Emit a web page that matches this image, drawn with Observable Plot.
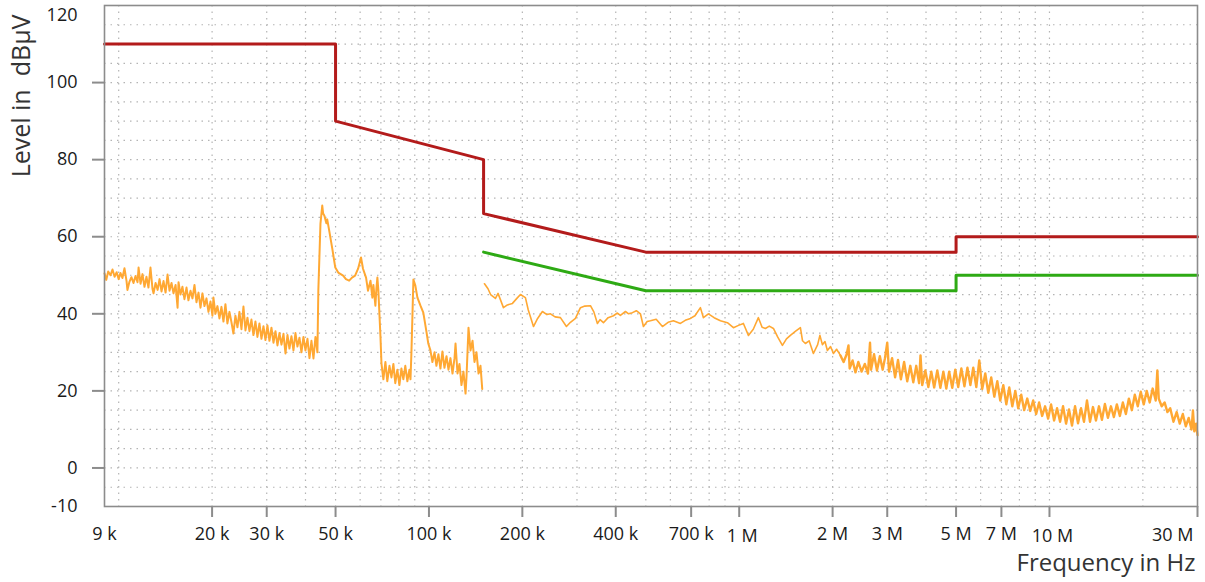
<!DOCTYPE html>
<html><head><meta charset="utf-8">
<script src="https://cdn.jsdelivr.net/npm/d3@7"></script>
<script src="https://cdn.jsdelivr.net/npm/@observablehq/plot@0.6"></script>
<style>html,body{margin:0;padding:0;background:#fff;} svg{display:block}</style>
</head><body><div id="chart"></div>
<script>
// ---- Data ----
// Measurement trace, band 9 kHz - 150 kHz: [frequency kHz, level dBµV]
const bandA_kHz = [[9.00,50.5],[9.12,48.8],[9.25,51.0],[9.41,50.0],[9.55,51.5],[9.70,49.6],[9.85,50.8],[10.0,49.0],[10.13,50.6],[10.28,49.3],[10.44,51.8],[10.60,48.5],[10.67,46.2],[10.83,48.3],[10.99,49.5],[11.16,48.0],[11.33,49.8],[11.50,48.2],[11.59,52.0],[11.76,47.8],[11.93,50.3],[12.11,47.0],[12.29,49.6],[12.47,46.8],[12.66,52.0],[12.85,46.5],[12.95,45.3],[13.15,48.0],[13.35,46.2],[13.54,49.0],[13.74,45.8],[13.95,48.5],[14.16,45.5],[14.37,50.2],[14.58,46.0],[14.80,48.0],[15.02,45.3],[15.25,47.5],[15.48,41.6],[15.59,48.2],[15.82,45.0],[16.05,47.0],[16.29,43.8],[16.54,46.8],[16.78,43.5],[17.04,46.0],[17.29,44.0],[17.55,47.5],[17.81,43.0],[18.08,45.5],[18.35,41.6],[18.62,45.3],[18.90,42.0],[19.18,44.0],[19.47,40.5],[19.76,43.2],[20.05,39.5],[20.20,44.2],[20.50,40.0],[20.81,42.0],[21.12,38.8],[21.44,41.8],[21.76,38.0],[22.08,42.5],[22.41,37.5],[22.75,40.5],[23.09,37.8],[23.43,34.9],[23.78,39.5],[24.14,36.5],[24.50,40.5],[24.87,36.0],[25.24,41.9],[25.62,35.7],[26.00,39.0],[26.39,35.5],[26.78,38.5],[27.18,34.5],[27.59,38.0],[28.00,34.0],[28.42,37.5],[28.85,33.5],[29.28,36.8],[29.72,33.2],[30.16,37.0],[30.61,33.0],[31.07,36.4],[31.54,32.5],[32.01,35.5],[32.49,31.8],[32.97,35.0],[33.47,32.0],[33.97,34.8],[34.48,29.7],[34.99,34.5],[35.51,31.0],[36.04,34.2],[36.58,30.5],[37.13,35.0],[37.68,31.5],[38.25,33.8],[38.82,30.0],[39.40,34.0],[39.99,30.5],[40.59,33.5],[41.20,28.5],[41.81,33.0],[42.44,28.4],[43.07,34.0],[43.40,32.0],[43.7,30.0],[44.0,46.0],[44.7,63.4],[45.3,68.1],[45.6,66.0],[46.0,65.5],[46.7,63.5],[47.0,64.5],[47.7,61.6],[48.8,56.9],[49.9,52.0],[51.0,50.7],[52.9,49.9],[54.0,49.0],[55.3,48.6],[56.5,49.4],[57.8,49.9],[59.1,51.7],[60.4,54.6],[61.3,51.7],[62.7,49.4],[63.6,46.0],[64.8,48.6],[65.7,44.2],[66.2,47.5],[67.2,42.1],[67.7,46.5],[68.2,49.4],[68.7,46.0],[69.8,33.8],[70.3,27.1],[71.3,23.0],[72.4,27.5],[73.4,22.5],[74.6,26.5],[75.7,23.5],[76.8,27.0],[77.9,22.0],[79.1,25.5],[80.3,21.5],[81.5,25.8],[82.7,23.0],[83.9,26.5],[85.2,22.5],[86.5,25.5],[87.2,23.0],[87.8,30.0],[88.5,40.0],[89.1,48.9],[90.4,47.3],[91.8,44.2],[93.9,42.1],[95.9,40.3],[98.0,35.7],[99.5,32.3],[101.1,30.5],[102.6,27.5],[104.2,30.0],[105.7,26.5],[107.3,29.5],[108.9,25.8],[110.5,30.2],[112.2,26.0],[113.9,29.0],[115.6,25.5],[117.3,28.5],[119.1,24.5],[120.9,28.5],[121.8,32.3],[123.6,24.5],[125.4,27.0],[127.3,21.5],[129.2,25.0],[131.2,19.3],[132.2,24.0],[134.1,36.4],[136.1,30.5],[138.2,33.0],[140.2,27.5],[142.3,30.0],[144.5,24.5],[146.6,26.5],[148.5,20.5]];

// Measurement trace, band 150 kHz - 2.12 MHz: [frequency kHz, level dBµV]
const bandB_kHz = [[151,47.8],[155,46.5],[158,45.0],[163.8,44.0],[167,45.3],[173.8,41.6],[179,42.3],[185.8,42.7],[192,44.0],[197.2,45.0],[204.6,44.2],[209,41.0],[217.2,36.7],[224,38.8],[232.1,40.6],[240,39.8],[246.4,40.0],[255,39.2],[265.3,39.0],[277.4,36.7],[285.8,37.8],[296.6,38.8],[307.8,41.6],[318,42.0],[331.5,42.1],[340,40.5],[349.1,37.5],[356,38.5],[365.1,37.7],[378,39.0],[393.2,39.5],[405,40.2],[414,39.6],[429.9,40.6],[440,40.0],[452.7,40.3],[466,40.8],[480.4,40.0],[491.2,36.7],[505,38.0],[517.3,38.2],[540,38.6],[565.6,36.7],[590,37.8],[613.7,38.2],[646.4,37.5],[670,38.3],[696.2,38.8],[720,39.5],[749.8,41.6],[766.7,39.0],[795.6,40.0],[830,39.0],[869.8,38.2],[916.1,37.7],[958,36.4],[995,37.0],[1031.6,37.5],[1070.6,34.4],[1110,36.0],[1153,39.0],[1185,36.5],[1214.8,36.2],[1250,36.8],[1289,36.2],[1330,34.0],[1378,31.8],[1420,33.5],[1462,34.4],[1520,35.5],[1574.8,36.4],[1600,33.0],[1634,32.3],[1680,33.0],[1734.5,29.7],[1790,32.0],[1820,34.4],[1854,32.0],[1890,32.8],[1924,30.5],[1970,31.5],[2012,29.7],[2060,30.8],[2120,29.2]];

// Measurement trace, band 2.12 MHz - 30 MHz: [frequency MHz, level dBµV]
const bandC_MHz = [[2.12,29.2],[2.17,27.5],[2.22,29.5],[2.25,31.8],[2.27,25.8],[2.32,27.9],[2.37,24.8],[2.42,27.5],[2.48,25.0],[2.54,27.0],[2.60,24.5],[2.64,32.5],[2.66,25.5],[2.72,29.5],[2.78,25.3],[2.84,29.0],[2.90,25.5],[2.95,28.5],[3.00,32.5],[3.04,25.0],[3.11,28.5],[3.18,23.5],[3.25,28.0],[3.32,23.0],[3.40,27.5],[3.48,22.5],[3.56,26.5],[3.64,22.2],[3.72,26.5],[3.80,22.0],[3.84,29.2],[3.89,21.5],[3.98,25.3],[4.07,21.0],[4.16,25.0],[4.25,20.9],[4.35,25.3],[4.45,20.8],[4.55,25.0],[4.65,20.6],[4.75,25.0],[4.86,20.8],[4.97,25.5],[5.08,21.0],[5.20,25.8],[5.32,21.2],[5.44,26.0],[5.56,21.5],[5.68,26.0],[5.81,21.0],[5.94,27.9],[6.07,20.5],[6.21,24.5],[6.35,19.5],[6.49,23.5],[6.64,18.5],[6.79,22.5],[6.94,17.5],[7.10,21.5],[7.26,16.5],[7.42,20.9],[7.59,16.0],[7.76,20.0],[7.93,15.5],[8.11,19.0],[8.29,15.0],[8.48,18.0],[8.67,14.8],[8.86,17.5],[9.06,14.0],[9.26,17.0],[9.47,13.5],[9.68,16.0],[9.90,12.8],[10.12,16.5],[10.35,12.3],[10.58,15.5],[10.82,12.0],[11.06,16.0],[11.31,11.5],[11.56,15.2],[11.82,11.0],[12.09,16.0],[12.36,11.6],[12.64,15.5],[12.92,12.0],[13.21,17.5],[13.51,12.0],[13.81,15.8],[14.12,12.3],[14.44,16.0],[14.76,12.5],[15.09,16.6],[15.43,13.0],[15.78,16.0],[16.13,13.2],[16.49,16.5],[16.86,13.5],[17.24,17.0],[17.63,14.0],[18.03,18.0],[18.43,15.0],[18.84,19.0],[19.26,16.0],[19.69,19.8],[20.13,16.5],[20.58,20.0],[21.04,17.0],[21.51,20.6],[22.0,17.5],[22.27,25.3],[22.5,18.0],[23.0,16.0],[23.5,17.0],[24.0,14.5],[24.5,15.5],[25.1,12.0],[25.7,14.5],[26.3,11.5],[26.9,14.0],[27.5,10.8],[28.1,13.0],[28.7,10.0],[29.0,14.9],[29.3,9.5],[29.7,11.5],[30.0,8.5]];

// Limit lines (CISPR): quasi-peak (red) and average (green)
const limitQP_kHz = [9, 50, 50, 150, 150, 500, 5000, 5000, 30000];
const limitQP_dB  = [110, 110, 90, 80, 66, 56, 56, 60, 60];
const limitAV_kHz = [150, 500, 5000, 5000, 30000];
const limitAV_dB  = [56, 46, 46, 50, 50];

// Axis ticks and labels
const xTickHz   = [20e3, 30e3, 50e3, 100e3, 200e3, 400e3, 700e3, 1e6, 2e6, 3e6, 5e6, 7e6, 10e6, 30e6];
const xLabelHz  = [9e3, 20e3, 30e3, 50e3, 100e3, 200e3, 400e3, 700e3, 2e6, 3e6, 5e6, 7e6];
const xLabels   = ["9 k", "20 k", "30 k", "50 k", "100 k", "200 k", "400 k", "700 k", "2 M", "3 M", "5 M", "7 M"];
const xLowLabelHz = [1e6, 10e6];
const xLowLabels  = ["1 M", "10 M"];
const xLastLabel = "30 M";
const yTicks    = [0, 20, 40, 60, 80, 100];
const yLabels   = [-10, 0, 20, 40, 60, 80, 100];
const yTopLabel = 120;

// ---- Build tables ----
const toRows = (arr, mult) => arr.map(([f, v]) => ({f: f * mult, v}));
const traceA = toRows(bandA_kHz, 1e3);
const traceB = toRows(bandB_kHz, 1e3);
const traceC = toRows(bandC_MHz, 1e6);
const qp = limitQP_kHz.map((f, i) => ({f: f * 1e3, v: limitQP_dB[i]}));
const av = limitAV_kHz.map((f, i) => ({f: f * 1e3, v: limitAV_dB[i]}));

const gridF = [];
for (let e = 3; e <= 7; e++) for (let m = 1; m <= 9; m++) { const f = m * 10 ** e; if (f > 9e3 && f < 3e7) gridF.push(f); }
const gridY = d3.range(-5, 120, 5);

const dotted = {stroke: "#b4b4b4", strokeDasharray: "1.5,5", strokeWidth: 1.2};
const axisGray = "#8c8c8c";
const orange = "#ffa833";
const labelStyle = {fontSize: 18, fill: "#1a1a1a"};

const chart = Plot.plot({
  width: 1205, height: 582,
  marginLeft: 104, marginRight: 8, marginTop: 5, marginBottom: 76,
  x: {type: "log", domain: [9e3, 3e7]},
  y: {domain: [-10, 120]},
  style: {fontFamily: "'Open Sans', 'Noto Sans', sans-serif", background: "#fff", color: "#1a1a1a"},
  marks: [
    Plot.ruleX(gridF, dotted),
    Plot.ruleY(gridY, dotted),
    Plot.line(traceA, {x: "f", y: "v", stroke: orange, strokeWidth: 2}),
    Plot.line(traceB, {x: "f", y: "v", stroke: orange, strokeWidth: 1.6}),
    Plot.line(traceC, {x: "f", y: "v", stroke: orange, strokeWidth: 2.4}),
    Plot.line(qp, {x: "f", y: "v", stroke: "#b31b1b", strokeWidth: 3}),
    Plot.line(av, {x: "f", y: "v", stroke: "#2eaa14", strokeWidth: 3}),
    Plot.frame({stroke: axisGray, strokeWidth: 1.6}),
    Plot.axisX(xTickHz, {tickSize: 11, tickFormat: () => "", label: null, stroke: axisGray, strokeWidth: 2}),
    Plot.axisY(yTicks, {tickSize: 12, tickFormat: () => "", label: null, stroke: axisGray, strokeWidth: 2}),
    Plot.text(xLabelHz, {x: d => d, text: (d, i) => xLabels[i], frameAnchor: "bottom", dy: 33, ...labelStyle}),
    Plot.text(xLowLabelHz, {x: d => d, text: (d, i) => xLowLabels[i], frameAnchor: "bottom", dy: 35, dx: 3, ...labelStyle}),
    Plot.text([3e7], {x: d => d, text: () => xLastLabel, frameAnchor: "bottom", dy: 34, dx: -4, textAnchor: "end", ...labelStyle}),
    Plot.text(yLabels, {y: d => d, text: d => String(d), frameAnchor: "left", dx: -27, textAnchor: "end", ...labelStyle}),
    Plot.text([yTopLabel], {y: d => d, text: d => String(d), frameAnchor: "left", dx: -27, dy: 10, textAnchor: "end", ...labelStyle}),
    Plot.text(["Level in  dBµV"], {frameAnchor: "top-left", dx: -92, dy: 9, rotate: -90, textAnchor: "end", fontSize: 25, fill: "#333"}),
    Plot.text(["Frequency in Hz"], {frameAnchor: "bottom-right", dx: -2, dy: 64, textAnchor: "end", fontSize: 24, fill: "#333"})
  ]
});
document.getElementById("chart").appendChild(chart);
</script>
</body></html>
